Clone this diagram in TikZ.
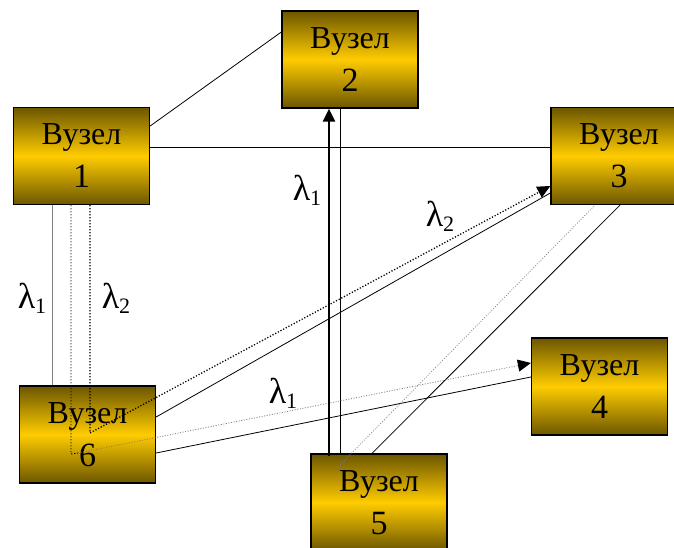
\documentclass[tikz,border=0pt]{standalone}
\usepackage{fontspec}
\setmainfont{Liberation Serif}
\usetikzlibrary{arrows.meta,calc}
\definecolor{gdark}{RGB}{108,86,0}
\definecolor{ggold}{RGB}{255,204,0}
\newcommand{\nodetext}[1]{Вузел\\{\fontsize{34}{34}\selectfont #1}}
\begin{document}
\begin{tikzpicture}[x=1pt,y=-1pt,
  box/.style={rectangle, draw=black, line width=1.3pt, minimum width=136pt, minimum height=97pt,
    inner sep=0pt, top color=gdark, bottom color=gdark, middle color=ggold, align=center,
    font=\fontsize{32}{43}\selectfont},
  ln/.style={line width=0.8pt, black},
  glin/.style={line width=1pt, gray},
  dotb/.style={line width=1.3pt, black, dash pattern=on 1.2pt off 1.8pt},
  dotg/.style={line width=0.7pt, gray, dash pattern=on 1pt off 1.6pt},
  thk/.style={line width=2.6pt, black},
  tip/.style={-{Triangle[length=13pt,width=12pt,color=black]}},
  lam/.style={font=\fontsize{36}{36}\selectfont, inner sep=0pt}
]
\clip (0,0) rectangle (674,548);
\fill[white] (0,0) rectangle (674,548);
% nodes
\node[box] (n1) at (81.5,156) {\nodetext{1}};
\node[box] (n2) at (350,59.5) {\nodetext{2}};
\node[box] (n3) at (619,156) {\nodetext{3}};
\node[box] (n4) at (599.5,386.5) {\nodetext{4}};
\node[box] (n5) at (379,502.5) {\nodetext{5}};
\node[box] (n6) at (87.5,434.5) {\nodetext{6}};
% solid links
\draw[ln] ($(n1.east)+(0,-30)$) -- ($(n2.west)+(0,-27.5)$);
\draw[ln] ($(n1.east)+(0,-9)$) -- ($(n3.west)+(0,-9)$);
\draw[glin] ($(n1.south)+(-29.5,0)$) -- ($(n6.north)+(-35.5,0)$);
\draw[ln] ($(n6.east)+(0,-17.5)$) -- ($(n3.west)+(0,37)$);
\draw[ln] ($(n6.east)+(0,18.5)$) -- ($(n4.west)+(0,-9.5)$);
\draw[ln] ($(n2.south)+(-10,0)$) -- ($(n5.north)+(-39,0)$);
\draw[ln] ($(n5.north)+(-7,0)$) -- ($(n3.south)+(1,0)$);
\draw[dotg] ($(n5.center)+(-46,-30.5)$) -- ($(n3.south)+(-24,0)$);
% lambda paths
\coordinate (b1) at ($(n6.center)+(-9.5,18.5)$);
\draw[dotb, line width=0.9pt] ($(n1.south)+(-10.5,0)$) -- ($(n6.center)+(-16.5,19.5)$) -- (b1);
\draw[dotg, line width=0.8pt, tip] (b1) -- ($(n4.west)+(0,-23.5)$);
\draw[dotb, tip] ($(n1.south)+(8.5,0)$) -- ($(n6.center)+(2.5,-1.5)$) -- ($(n3.west)+(0,30)$);
\draw[thk, tip] ($(n5.north)+(-50,3)$) -- ($(n2.south)+(-21,0)$);
% labels
\node[lam] (l1) at (32,298) {λ\raisebox{-0.3ex}{\fontsize{22}{22}\selectfont 1}};
\node[lam] (l2) at (116,298) {λ\raisebox{-0.3ex}{\fontsize{22}{22}\selectfont 2}};
\node[lam] (l3) at (307,190) {λ\raisebox{-0.3ex}{\fontsize{22}{22}\selectfont 1}};
\node[lam] (l4) at (440,216) {λ\raisebox{-0.3ex}{\fontsize{22}{22}\selectfont 2}};
\node[lam] (l5) at (283,393) {λ\raisebox{-0.3ex}{\fontsize{22}{22}\selectfont 1}};
\end{tikzpicture}
\end{document}
